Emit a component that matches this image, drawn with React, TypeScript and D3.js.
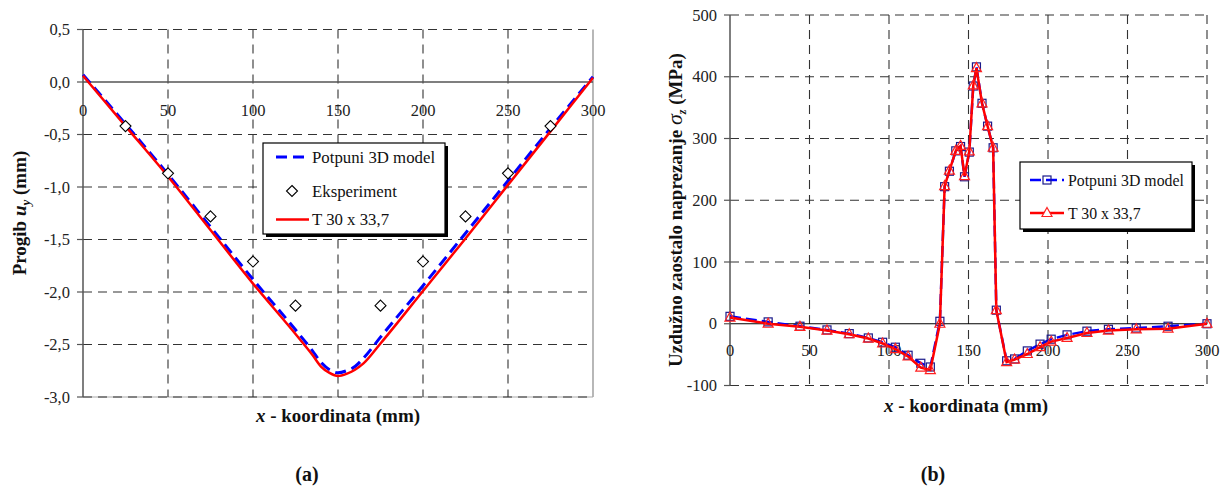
import React from "react";
import * as d3 from "d3";

// ---------- Chart (a): deflection ----------
const defX = [0, 25, 50, 75, 100, 125, 135, 140, 145, 150, 155, 160, 165, 175, 200, 225, 250, 275, 300];
const defT30 = [0.06, -0.42, -0.9, -1.41, -1.92, -2.4, -2.6, -2.71, -2.77, -2.8, -2.78, -2.74, -2.68, -2.49, -1.99, -1.49, -0.98, -0.47, 0.04];
const def3D = [0.07, -0.4, -0.88, -1.38, -1.88, -2.36, -2.56, -2.67, -2.74, -2.77, -2.75, -2.71, -2.63, -2.43, -1.94, -1.44, -0.94, -0.44, 0.05];
const expX = [25, 50, 75, 100, 125, 175, 200, 225, 250, 275];
const expY = [-0.42, -0.87, -1.28, -1.71, -2.13, -2.13, -1.71, -1.28, -0.87, -0.42];
const aXTicks = [0, 50, 100, 150, 200, 250, 300];
const aYTicks = [0.5, 0, -0.5, -1, -1.5, -2, -2.5, -3];

// ---------- Chart (b): residual stress ----------
const strX = [0, 24, 44, 61, 75, 87, 96, 104, 112, 120, 126, 132, 135, 138, 142, 145, 147.5, 150.5, 153, 155, 158.5, 162, 165.5, 167.5, 174, 179, 187, 195, 202, 212, 224.5, 238, 255.5, 275.5, 300];
const str3D = [12, 3, -4, -10, -16, -23, -30, -38, -51, -64, -70, 4, 222, 247, 280, 287, 238, 278, 385, 416, 357, 320, 285, 22, -60, -57, -44, -33, -25, -18, -12, -9, -7, -4, 0];
const strT30 = [10, 0, -5, -11, -17, -24, -32, -41, -53, -71, -75, 0, 223, 248, 280, 288, 239, 279, 386, 414, 357, 320, 285, 22, -62, -58, -49, -38, -29, -23, -15, -11, -9, -8, 0];
const bXTicks = [0, 50, 100, 150, 200, 250, 300];
const bYTicks = [500, 400, 300, 200, 100, 0, -100];

const FONT = "Liberation Serif, Tinos, Times New Roman, DejaVu Serif, serif";
const GRID = "#333";
const DASH = "9,6";
const TITLE = 19;
const TICK = 16.5;
const LEG = 16.8;

function fmtComma(v: number) {
  return v.toFixed(1).replace(".", ",");
}

function ChartA() {
  const x = d3.scaleLinear().domain([0, 300]).range([83, 593]);
  const y = d3.scaleLinear().domain([-3, 0.5]).range([397, 29.5]);
  const line = d3
    .line<number>()
    .x((_, i) => x(defX[i]))
    .y((d) => y(d))
    .curve(d3.curveMonotoneX);
  const diamond = (cx: number, cy: number, r = 5.5) =>
    `M${cx},${cy - r}L${cx + r},${cy}L${cx},${cy + r}L${cx - r},${cy}Z`;
  const [x0, x1] = x.range();
  return (
    <g>
      <line x1={x1} x2={x1} y1={y(0.5)} y2={y(-3)} stroke="#888" strokeWidth={1.2} />
      <line x1={x0} x2={x1} y1={y(-3)} y2={y(-3)} stroke="#aaa" strokeWidth={1.2} />
      {aXTicks.filter((t) => t > 0 && t < 300).map((t) => (
        <line key={"gx" + t} x1={x(t)} x2={x(t)} y1={y(0.5)} y2={y(-3)} stroke={GRID} strokeWidth={1.1} strokeDasharray={DASH} />
      ))}
      {aYTicks.filter((t) => t !== 0).map((t) => (
        <line key={"gy" + t} x1={x0} x2={x1} y1={y(t)} y2={y(t)} stroke={GRID} strokeWidth={1.1} strokeDasharray={DASH} />
      ))}
      <line x1={x0} x2={x1} y1={y(0)} y2={y(0)} stroke="#555" strokeWidth={1.5} />
      <line x1={x0} x2={x0} y1={y(0.5)} y2={y(-3)} stroke="#555" strokeWidth={1.5} />
      {aYTicks.map((t) => (
        <g key={"ty" + t}>
          <line x1={x0 - 6} x2={x0} y1={y(t)} y2={y(t)} stroke="#555" strokeWidth={1.2} />
          <text x={70} y={y(t) + 5.5} textAnchor="end" fontSize={TICK} style={{ fontFamily: FONT }} fill="#222">
            {fmtComma(t)}
          </text>
        </g>
      ))}
      {aXTicks.map((t) => (
        <text key={"tx" + t} x={x(t)} y={116} textAnchor="middle" fontSize={TICK} style={{ fontFamily: FONT }} fill="#222">
          {t}
        </text>
      ))}
      <path d={line(def3D) || ""} fill="none" stroke="#0000ff" strokeWidth={3} strokeDasharray="11,6" />
      <path d={line(defT30) || ""} fill="none" stroke="#ff0000" strokeWidth={2.5} />
      {expX.map((v, i) => (
        <path key={"e" + i} d={diamond(x(v), y(expY[i]))} fill="white" stroke="#000" strokeWidth={1.1} />
      ))}
      <rect x={266} y={146} width={182} height={91} fill="#000" />
      <rect x={263} y={143} width={182} height={91} fill="#fff" stroke="#000" strokeWidth={1.2} />
      <line x1={276} x2={309} y1={157} y2={157} stroke="#0000ff" strokeWidth={3} strokeDasharray="11,6" />
      <text x={312} y={162.5} fontSize={LEG} style={{ fontFamily: FONT }} fill="#111">Potpuni 3D model</text>
      <path d={diamond(292, 191)} fill="white" stroke="#000" strokeWidth={1.1} />
      <text x={312} y={196.5} fontSize={LEG} style={{ fontFamily: FONT }} fill="#111">Eksperiment</text>
      <line x1={276} x2={309} y1={219.5} y2={219.5} stroke="#ff0000" strokeWidth={2.5} />
      <text x={312} y={225} fontSize={LEG} style={{ fontFamily: FONT }} fill="#111">T 30 x 33,7</text>
      <text transform="translate(26,213) rotate(-90)" textAnchor="middle" fontSize={TITLE} style={{ fontFamily: FONT }} fontWeight="bold" fill="#111">
        {"Progib  "}
        <tspan fontStyle="italic">u</tspan>
        <tspan fontSize={13} dy={4} fontStyle="italic">y</tspan>
        <tspan dy={-4}>{"  (mm)"}</tspan>
      </text>
      <text x={338} y={422} textAnchor="middle" fontSize={TITLE} style={{ fontFamily: FONT }} fontWeight="bold" fill="#111">
        <tspan fontStyle="italic">x</tspan>
        {"  - koordinata (mm)"}
      </text>
      <text x={307} y={481} textAnchor="middle" fontSize={20} style={{ fontFamily: FONT }} fontWeight="bold" fill="#111">(a)</text>
    </g>
  );
}

function ChartB() {
  const x = d3.scaleLinear().domain([0, 300]).range([730, 1207]);
  const y = d3.scaleLinear().domain([-100, 500]).range([385.5, 15]);
  const line = d3
    .line<number>()
    .x((_, i) => x(strX[i]))
    .y((d) => y(d));
  const [x0, x1] = x.range();
  const sq = 8;
  const tri = (cx: number, cy: number) =>
    `M${cx},${cy - 5.5}L${cx + 5},${cy + 3.5}L${cx - 5},${cy + 3.5}Z`;
  return (
    <g>
      {bXTicks.filter((t) => t > 0).map((t) => (
        <line key={"gx" + t} x1={x(t)} x2={x(t)} y1={y(500)} y2={y(-100)} stroke={GRID} strokeWidth={1.1} strokeDasharray={DASH} />
      ))}
      {bYTicks.filter((t) => t !== 0).map((t) => (
        <line key={"gy" + t} x1={x0} x2={x1} y1={y(t)} y2={y(t)} stroke={GRID} strokeWidth={1.1} strokeDasharray={DASH} />
      ))}
      <line x1={x0} x2={x1} y1={y(0)} y2={y(0)} stroke="#000" strokeWidth={1.2} />
      <line x1={x0} x2={x0} y1={y(500)} y2={y(-100)} stroke="#555" strokeWidth={1.5} />
      {bYTicks.map((t) => (
        <g key={"ty" + t}>
          <line x1={x0 - 6} x2={x0} y1={y(t)} y2={y(t)} stroke="#555" strokeWidth={1.2} />
          <text x={717} y={y(t) + 5.5} textAnchor="end" fontSize={TICK} style={{ fontFamily: FONT }} fill="#222">
            {t}
          </text>
        </g>
      ))}
      {bXTicks.map((t) => (
        <text key={"tx" + t} x={x(t)} y={356} textAnchor="middle" fontSize={TICK} style={{ fontFamily: FONT }} fill="#222">
          {t}
        </text>
      ))}
      <path d={line(str3D) || ""} fill="none" stroke="#0000ff" strokeWidth={2.5} strokeDasharray="11,5" />
      {strX.map((v, i) => (
        <rect key={"s" + i} x={x(v) - sq / 2} y={y(str3D[i]) - sq / 2} width={sq} height={sq} fill="none" stroke="#1a1a8a" strokeWidth={1.2} />
      ))}
      <path d={line(strT30) || ""} fill="none" stroke="#ff0000" strokeWidth={2.5} />
      {strX.map((v, i) => (
        <path key={"t" + i} d={tri(x(v), y(strT30[i]))} fill="none" stroke="#ff2020" strokeWidth={1.2} />
      ))}
      <rect x={1023} y={165} width={172} height={67} fill="#000" />
      <rect x={1020} y={162} width={172} height={67} fill="#fff" stroke="#000" strokeWidth={1.2} />
      <line x1={1030} x2={1064} y1={180} y2={180} stroke="#0000ff" strokeWidth={2.5} strokeDasharray="11,5" />
      <rect x={1047 - sq / 2} y={180 - sq / 2} width={sq} height={sq} fill="none" stroke="#1a1a8a" strokeWidth={1.2} />
      <text x={1068} y={185.5} fontSize={15.8} style={{ fontFamily: FONT }} fill="#111">Potpuni 3D model</text>
      <line x1={1030} x2={1064} y1={213} y2={213} stroke="#ff0000" strokeWidth={2.5} />
      <path d={tri(1047, 213)} fill="#fff" stroke="#ff2020" strokeWidth={1.2} />
      <text x={1068} y={218.5} fontSize={15.8} style={{ fontFamily: FONT }} fill="#111">T 30 x 33,7</text>
      <text transform="translate(682,210) rotate(-90)" textAnchor="middle" fontSize={TITLE} style={{ fontFamily: FONT }} fontWeight="bold" fill="#111">
        {"Uzdužno zaostalo naprezanje  "}
        <tspan fontStyle="italic" fontWeight="normal" fontSize={22}>σ</tspan>
        <tspan fontSize={12} dy={4} fontStyle="italic">z</tspan>
        <tspan dy={-4}>{"  (MPa)"}</tspan>
      </text>
      <text x={966} y={412} textAnchor="middle" fontSize={TITLE} style={{ fontFamily: FONT }} fontWeight="bold" fill="#111">
        <tspan fontStyle="italic">x</tspan>
        {"  - koordinata (mm)"}
      </text>
      <text x={933} y={481} textAnchor="middle" fontSize={20} style={{ fontFamily: FONT }} fontWeight="bold" fill="#111">(b)</text>
    </g>
  );
}

export default function App() {
  return (
    <svg
      width={1220}
      height={487}
      style={{ position: "absolute", left: 0, top: 0, background: "#fff" }}
    >
      <rect x={0} y={0} width={1220} height={487} fill="#fff" />
      <ChartA />
      <ChartB />
    </svg>
  );
}
